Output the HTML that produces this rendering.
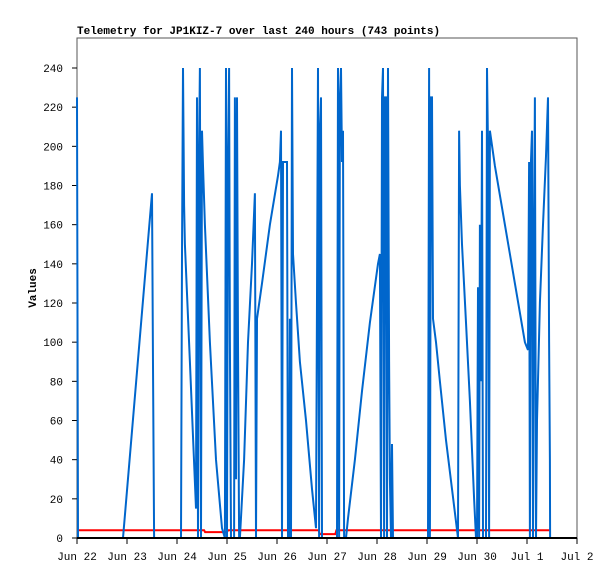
<!DOCTYPE html>
<html><head><meta charset="utf-8"><style>
body{margin:0;background:#fff;width:615px;height:579px;overflow:hidden}
text{font-family:"Liberation Mono","DejaVu Sans Mono",monospace;font-size:11px;fill:#000}
</style></head><body>
<svg id="chart" width="615" height="579" xmlns="http://www.w3.org/2000/svg">
<rect width="615" height="579" fill="#fff"/>
<text x="77" y="34" style="font-weight:bold">Telemetry for JP1KIZ-7 over last 240 hours (743 points)</text>
<rect x="77" y="38" width="500" height="500" fill="none" stroke="#555" stroke-width="1"/>
<text transform="translate(36,288) rotate(-90)" text-anchor="middle" style="font-weight:bold">Values</text>
<g id="yticks"></g><g id="xticks"></g>
<g id="series"></g>
<line x1="77" y1="538" x2="577" y2="538" stroke="#000" stroke-width="2"/>
</svg>
<script>
const yTicks=[0,20,40,60,80,100,120,140,160,180,200,220,240];
const xTickLabels=["Jun 22","Jun 23","Jun 24","Jun 25","Jun 26","Jun 27","Jun 28","Jun 29","Jun 30","Jul 1","Jul 2"];
const blueHours=[0,0.5,22.1,36,36.5,37,49.9,50.4,50.9,51.4,51.8,54.2,57.1,57.6,58.1,58.6,59,59.5,60,60.5,61.4,63.8,66.7,69.6,71,71.5,72,72.5,73,73.4,73.9,75.4,75.8,76.3,76.8,77.3,77.8,78.2,80.2,82.1,84,85.4,85.9,86.4,88.8,92.6,96.5,97.4,97.9,98.4,98.9,100.8,101.3,101.8,102.2,102.7,103.2,103.7,105.1,107,109.9,112.8,114.7,115.7,116.2,116.6,117.1,117.6,118.1,124.8,125.3,125.8,126.2,126.7,127.2,127.7,128.2,129.1,130.1,133.4,136.8,140.6,144.5,145.4,145.9,146.4,146.9,147.4,147.8,148.3,148.8,149.3,149.8,150.2,150.7,151.2,151.7,168.5,169,169.4,169.9,170.4,170.9,172.3,174.2,177.1,180,182.9,183.4,183.8,184.8,186.7,188.6,190.6,191.5,192,192.5,193,193.4,193.9,194.4,194.9,196.3,196.8,197.3,197.8,198.2,200.6,205.4,210.2,215,216.5,217,217.4,217.9,218.4,218.9,219.4,219.8,220.3,220.8,222.2,223.7,225.1,226.1,226.6,227,227.1];
const blueValues=[225,0,0,176,88,0,0,145,240,170,150,90,15,225,0,200,240,0,208,190,160,100,40,5,0,240,0,192,240,100,0,0,225,30,225,100,0,0,40,100,140,176,0,112,130,160,185,192,208,0,192,192,0,0,112,0,240,145,120,90,60,25,5,240,0,208,225,0,0,0,240,0,225,240,192,208,0,0,10,40,75,110,140,145,0,225,240,0,225,225,0,240,90,30,0,48,0,0,240,0,225,225,112,100,80,50,25,0,208,180,150,110,70,20,0,0,128,0,160,80,208,0,0,240,200,0,208,190,160,130,100,96,192,0,193,208,0,160,225,0,60,120,160,195,225,100,40,0];
const redHours=[0,61,61.5,72,72.5,116,116.5,124,124.5,227];
const redValues=[4,4,3,3,4,4,2,2,4,4];
const X=h=>77+h*500/240;
const Y=v=>538-v*470/240;
const NS="http://www.w3.org/2000/svg";
const yg=document.getElementById('yticks');
yTicks.forEach(v=>{
 const l=document.createElementNS(NS,'line');
 
 
 l.setAttribute('x1',72);l.setAttribute('x2',77);l.setAttribute('y1',Y(v));l.setAttribute('y2',Y(v));l.setAttribute('stroke','#000');
 yg.appendChild(l);
 const t=document.createElementNS(NS,'text');
 
 
 t.setAttribute('x',63);t.setAttribute('y',Y(v)+4);t.setAttribute('text-anchor','end');t.textContent=v;
 yg.appendChild(t);
});
const xg=document.getElementById('xticks');
xTickLabels.forEach((s,i)=>{
 const x=X(i*24);
 const l=document.createElementNS(NS,'line');
 
 
 l.setAttribute('x1',x);l.setAttribute('x2',x);l.setAttribute('y1',538);l.setAttribute('y2',544);l.setAttribute('stroke','#000');
 xg.appendChild(l);
 const t=document.createElementNS(NS,'text');
 
 
 t.setAttribute('x',x);t.setAttribute('y',560);t.setAttribute('text-anchor','middle');t.textContent=s;
 xg.appendChild(t);
});
const sg=document.getElementById('series');
function line(hs,vs,color,name){
 const p=document.createElementNS(NS,'polyline');
 
 
 p.setAttribute('points',hs.map((h,i)=>X(h).toFixed(1)+','+Y(vs[i]).toFixed(1)).join(' '));
 p.setAttribute('fill','none');p.setAttribute('stroke',color);p.setAttribute('stroke-width',2);
 sg.appendChild(p);
}
line(redHours,redValues,'#ff0000','red-series-line');
line(blueHours,blueValues,'#0066cc','blue-series-line');
</script>
</body></html>
